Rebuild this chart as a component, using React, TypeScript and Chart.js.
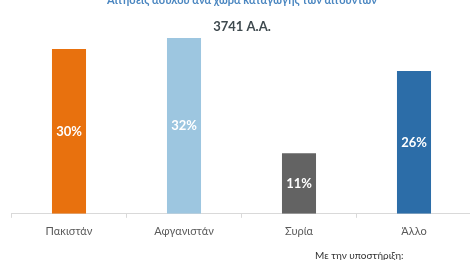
import React, { useEffect, useRef } from "react";
import { Chart, registerables } from "chart.js";

Chart.register(...registerables);

const categories = ["Πακιστάν", "Αφγανιστάν", "Συρία", "Άλλο"];
const values = [30, 32, 11, 26];
const valueLabels = ["30%", "32%", "11%", "26%"];
const barColors = ["#E8710E", "#9DC6E0", "#636363", "#2C6DA8"];
const topText = "Αιτήσεις ασύλου ανά χώρα καταγωγής των αιτούντων";
const titleText = "3741 Α.Α.";
const footerText = "Με την υποστήριξη:";

const textPlugin = {
  id: "texts",
  afterDatasetsDraw(chart: any) {
    const { ctx } = chart;
    const meta = chart.getDatasetMeta(0);
    ctx.save();
    ctx.textAlign = "center";
    ctx.textBaseline = "middle";
    ctx.fillStyle = "#ffffff";
    ctx.font = "bold 13px Lato, 'Open Sans', sans-serif";
    meta.data.forEach((bar: any, i: number) => {
      const mid = (bar.y + bar.base) / 2;
      ctx.fillText(valueLabels[i], bar.x, mid);
    });
    ctx.fillStyle = "#4A86C0";
    ctx.font = "bold 11px Lato, 'Open Sans', sans-serif";
    ctx.fillText(topText, 242, 0);
    ctx.fillStyle = "#3F4A4F";
    ctx.font = "bold 13px Lato, 'Open Sans', sans-serif";
    ctx.fillText(titleText, 242, 27);
    ctx.fillStyle = "#333333";
    ctx.font = "10px Lato, 'Open Sans', sans-serif";
    ctx.textAlign = "left";
    ctx.fillText(footerText, 315, 256);
    ctx.restore();
  },
};

export default function App() {
  const ref = useRef<HTMLCanvasElement>(null);
  useEffect(() => {
    document.body.style.margin = "0";
    const chart = new Chart(ref.current!, {
      type: "bar",
      data: {
        labels: categories,
        datasets: [
          {
            data: values,
            backgroundColor: barColors,
            categoryPercentage: 1,
            barPercentage: 0.296,
          },
        ],
      },
      options: {
        animation: false,
        responsive: false,
        layout: { padding: { left: 11.5, right: 3.5, top: 16, bottom: 15 } },
        plugins: { legend: { display: false }, tooltip: { enabled: false } },
        scales: {
          y: { display: false, min: 0, max: 36 },
          x: {
            offset: true,
            border: { color: "#D9D9D9", width: 1 },
            grid: { offset: true, drawOnChartArea: false, color: "#D9D9D9", tickLength: 4 },
            ticks: {
              color: "#595959",
              padding: 7,
              font: { family: "Lato, 'Open Sans', sans-serif", size: 11 },
            },
          },
        },
      },
      plugins: [textPlugin],
    });
    return () => chart.destroy();
  }, []);
  return (
    <div style={{ width: 470, height: 260, overflow: "hidden", position: "relative", background: "#fff" }}>
      <canvas ref={ref} width={475} height={260} style={{ display: "block" }} />
    </div>
  );
}
